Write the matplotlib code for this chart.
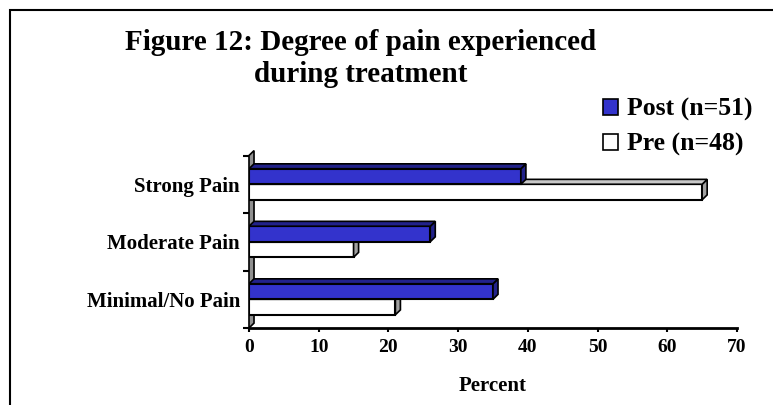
import numpy as np
import matplotlib.pyplot as plt
from matplotlib.patches import Polygon, Rectangle, Patch

plt.rcParams['font.family'] = ['Liberation Serif', 'DejaVu Serif']
plt.rcParams['font.weight'] = 'bold'

# Data (percent)
categories = ["Minimal/No Pain", "Moderate Pain", "Strong Pain"]
post_values = [35, 26, 39]
pre_values = [21, 15, 65]
series_labels = ["Post (n=51)", "Pre (n=48)"]
x_ticks = [0, 10, 20, 30, 40, 50, 60, 70]

blue = "#3333cc"
blue_side = "#22228a"
grey_side = "#a0a0a0"

fig = plt.figure(figsize=(7.73, 4.05), dpi=100)
ax = fig.add_axes([249 / 773, 77 / 405, 488 / 773, 172.5 / 405])

y = np.arange(len(categories))
h = 0.27
dx = 0.72   # fake 3D depth in x units
dy = 0.085  # fake 3D depth in y units

# left wall
wall = Polygon([(0, -0.5), (dx, -0.5 + dy), (dx, 2.5 + dy), (0, 2.5)],
               closed=True, facecolor="#909090", edgecolor="black", lw=1.2,
               zorder=1, clip_on=False)
ax.add_patch(wall)


def bar3d(yc, v, face, side, top):
    y0 = yc - h / 2
    y1 = yc + h / 2
    ax.add_patch(Rectangle((0, y0), v, h, facecolor=face, edgecolor="black", lw=1.5, zorder=3))
    ax.add_patch(Polygon([(v, y0), (v + dx, y0 + dy), (v + dx, y1 + dy), (v, y1)],
                         closed=True, facecolor=side, edgecolor="black", lw=1.2, zorder=3))
    ax.add_patch(Polygon([(0, y1), (dx, y1 + dy), (v + dx, y1 + dy), (v, y1)],
                         closed=True, facecolor=top, edgecolor="black", lw=1.2, zorder=3))


for i in range(len(categories)):
    bar3d(y[i] - h / 2, pre_values[i], "white", grey_side, "#c8c8c8")
    bar3d(y[i] + h / 2, post_values[i], blue, blue_side, blue_side)

ax.set_xlim(0, 70)
ax.set_ylim(-0.5, 2.5)
ax.set_xticks(x_ticks)
ax.set_xticklabels([str(t) for t in x_ticks], fontsize=14, fontweight="bold")
ax.set_yticks(y)
ax.set_yticklabels(categories, fontsize=15, fontweight="bold")
ax.set_yticks([-0.5, 0.5, 1.5, 2.5], minor=True)
ax.tick_params(axis="y", which="major", length=0, pad=6.5)
ax.tick_params(axis="y", which="minor", length=4, width=1.5, direction="out")
ax.tick_params(axis="x", length=3, width=1.5, direction="out", pad=5)
for s in ["top", "right", "left"]:
    ax.spines[s].set_visible(False)
ax.spines["bottom"].set_linewidth(2)
ax.patch.set_visible(False)

ax.set_xlabel("Percent", fontsize=15, fontweight="bold", labelpad=14)

fig.text(0.466, 1 - 42 / 405, "Figure 12: Degree of pain experienced", ha="center", va="center",
         fontsize=21, fontweight="bold")
fig.text(0.466, 1 - 75 / 405, "during treatment", ha="center", va="center",
         fontsize=21, fontweight="bold")

handles = [Patch(facecolor=blue, edgecolor="black", lw=1.2),
           Patch(facecolor="white", edgecolor="black", lw=1.2)]
fig.legend(handles, series_labels, loc="upper left", bbox_to_anchor=(603 / 773, 1 - 98 / 405),
           frameon=False, borderpad=0, borderaxespad=0, handlelength=0.58, handleheight=0.58,
           handletextpad=0.35, labelspacing=0.45, prop={"size": 18.5, "weight": "bold"})

fig.add_artist(Rectangle((10 / 773, -0.1), 1.0, 1.1 - 10 / 405, transform=fig.transFigure,
                         fill=False, edgecolor="black", lw=1.5))

fig.savefig("out.png", dpi=100)
